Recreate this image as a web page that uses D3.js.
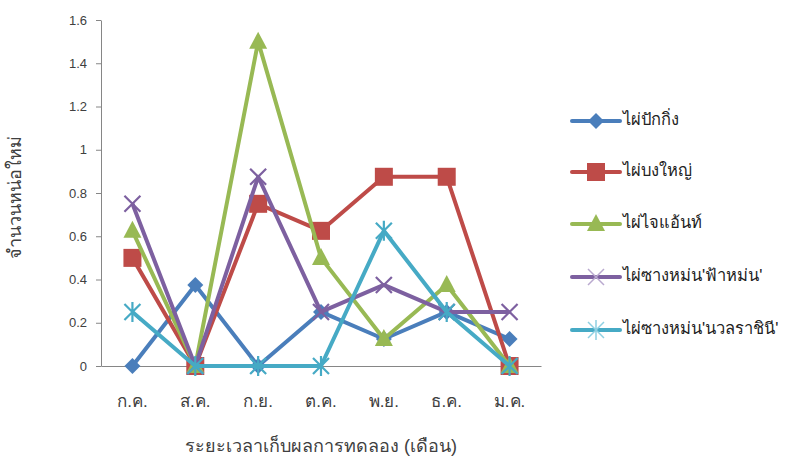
<!DOCTYPE html>
<html><head><meta charset="utf-8">
<script src="https://cdn.jsdelivr.net/npm/d3@7"></script>
<style>body{margin:0;background:#fff}svg{display:block}text{font-family:"Liberation Sans","Noto Sans",Tahoma,sans-serif}</style>
</head><body><svg id="c" width="792" height="462"></svg>
<script>
const months = ["ก.ค.","ส.ค.","ก.ย.","ต.ค.","พ.ย.","ธ.ค.","ม.ค."];
const seriesNames = ["ไผ่ปักกิ่ง","ไผ่บงใหญ่","ไผ่ไจแอ้นท์","ไผ่ซางหม่น'ฟ้าหม่น'","ไผ่ซางหม่น'นวลราชินี'"];
const pakking = [0, 0.375, 0, 0.25, 0.125, 0.25, 0.125];
const bongyai = [0.5, 0, 0.75, 0.625, 0.875, 0.875, 0];
const giant = [0.625, 0, 1.5, 0.5, 0.125, 0.375, 0];
const fahmon = [0.75, 0, 0.875, 0.25, 0.375, 0.25, 0.25];
const nuanrachini = [0.25, 0, 0, 0, 0.625, 0.25, 0];
const yTicks = [0, 0.2, 0.4, 0.6, 0.8, 1, 1.2, 1.4, 1.6];
const yTitle = "จำนวนหน่อใหม่";
const xTitle = "ระยะเวลาเก็บผลการทดลอง (เดือน)";

const seriesValues = [pakking, bongyai, giant, fahmon, nuanrachini];
const colors = ["#4A7EBB","#BE4B48","#98B954","#7D60A0","#46AAC5"];
const markers = ["diamond","square","triangle","x","star"];

const svg = d3.select("#c");
const L = 101, R = 541, T = 20, B = 366;
const x = d3.scaleBand().domain(months).range([L, R]);
const y = d3.scaleLinear().domain([0, 1.6]).range([B, T]);

// axes
const yAxis = svg.append("g").attr("transform", `translate(${L},0)`)
  .call(d3.axisLeft(y).tickValues(yTicks).tickFormat(d => d3.format("")(+d.toFixed(1))).tickSize(5).tickSizeOuter(0));
yAxis.select(".domain").attr("stroke", "#868686");
yAxis.selectAll(".tick line").attr("stroke", "#868686");
yAxis.selectAll(".tick text").attr("fill", "#404040").attr("font-size", 13).attr("x", -14);

const xAxis = svg.append("g").attr("transform", `translate(0,${B})`)
  .call(d3.axisBottom(x).tickSize(0).tickSizeOuter(0));
xAxis.select(".domain").attr("stroke", "#868686");
xAxis.selectAll(".tick text").attr("fill", "#404040").attr("font-size", 17).attr("dy", "0").attr("y", 41);

svg.append("text").attr("transform", `translate(21,${(T+B)/2 + 4}) rotate(-90)`)
  .attr("text-anchor", "middle").attr("font-size", 18).attr("fill", "#404040").text(yTitle);
svg.append("text").attr("x", (L+R)/2).attr("y", 452).attr("text-anchor", "middle")
  .attr("font-size", 18).attr("fill", "#404040").text(xTitle);

function drawMarker(g, type, color, cx, cy, legend) {
  if (type === "diamond") {
    g.append("path").attr("d", `M${cx},${cy-8}L${cx+8},${cy}L${cx},${cy+8}L${cx-8},${cy}Z`).attr("fill", color);
  } else if (type === "square") {
    g.append("rect").attr("x", cx-9).attr("y", cy-9).attr("width", 18).attr("height", 18).attr("fill", color);
  } else if (type === "triangle") {
    g.append("path").attr("d", `M${cx},${cy-10}L${cx+9},${cy+7}L${cx-9},${cy+7}Z`).attr("fill", color);
  } else if (type === "x") {
    const s = 8;
    g.append("path").attr("d", `M${cx-s},${cy-s}L${cx+s},${cy+s}M${cx-s},${cy+s}L${cx+s},${cy-s}`)
      .attr("stroke", legend ? "#b9a9cf" : color).attr("stroke-width", legend ? 1.5 : 2.2).attr("fill", "none");
  } else if (type === "star") {
    const s = 8;
    g.append("path").attr("d", `M${cx-s},${cy-s}L${cx+s},${cy+s}M${cx-s},${cy+s}L${cx+s},${cy-s}M${cx},${cy-s-2}L${cx},${cy+s+2}`)
      .attr("stroke", legend ? "#8fd0e2" : color).attr("stroke-width", legend ? 1.5 : 2.2).attr("fill", "none");
  }
}

const line = d3.line().x((d, i) => x(months[i]) + x.bandwidth()/2).y(d => y(d));
seriesValues.forEach((vals, si) => {
  const g = svg.append("g");
  g.append("path").datum(vals).attr("d", line).attr("fill", "none")
    .attr("stroke", colors[si]).attr("stroke-width", 4).attr("stroke-linejoin", "round");
  vals.forEach((v, i) => drawMarker(g, markers[si], colors[si], x(months[i]) + x.bandwidth()/2, y(v), false));
});

// legend
const legY = [121, 172, 224, 277, 330];
seriesNames.forEach((n, i) => {
  const g = svg.append("g");
  g.append("line").attr("x1", 572).attr("x2", 620).attr("y1", legY[i]).attr("y2", legY[i])
    .attr("stroke", colors[i]).attr("stroke-width", 4).attr("stroke-linecap", "round");
  drawMarker(g, markers[i], colors[i], 596, legY[i], true);
  g.append("text").attr("x", 623).attr("y", legY[i] + 4).attr("font-size", 16.5).attr("fill", "#222").text(n);
});
</script></body></html>
